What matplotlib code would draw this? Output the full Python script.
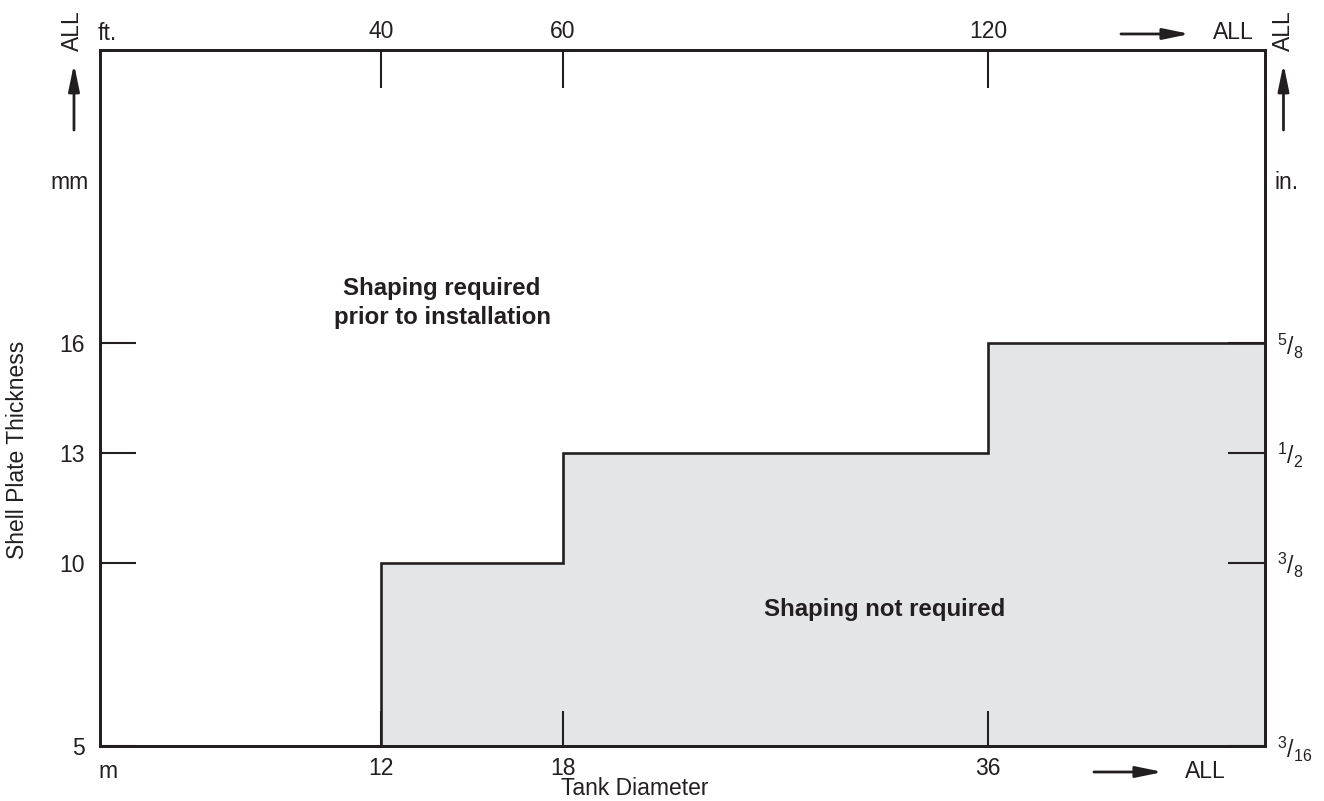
import numpy as np
import matplotlib.pyplot as plt

plt.rcParams['font.family'] = 'Liberation Sans'
plt.rcParams['mathtext.fontset'] = 'custom'
plt.rcParams['mathtext.rm'] = 'Liberation Sans'
plt.rcParams['mathtext.it'] = 'Liberation Sans'
plt.rcParams['mathtext.bf'] = 'Liberation Sans:bold'

# ============================================================
# Data
# ============================================================

diameter_m = [12, 18, 36]            # tank diameter breakpoints (m)
diameter_ft = ['40', '60', '120']    # same breakpoints in ft
min_thickness_mm = [10, 13, 16]      # shaping needed at / above this
mm_ticks = [5, 10, 13, 16]
mm_labels = ['5', '10', '13', '16']
in_labels = [r'$^{3}/_{16}$', r'$^{3}/_{8}$', r'$^{1}/_{2}$', r'$^{5}/_{8}$']

x_max = 48   # "ALL" end of the diameter axis
y_min, y_max = 5, 24

ink = '#231f20'
fill = '#e4e5e7'
fs = 16.5

# schematic (piecewise) diameter scale
knots = [0, 12, 18, 36, x_max]
frac = [0, 0.2412, 0.3974, 0.7622, 1.0]

def fwd(x):
    return np.interp(x, knots, frac)

def inv(x):
    return np.interp(x, frac, knots)

# ============================================================
# Figure
# ============================================================

fig = plt.figure(figsize=(13.24, 8.01), dpi=100)
ax = fig.add_axes([0.0755, 0.0687, 0.8799, 0.8689])
ax.set_xscale('function', functions=(fwd, inv))
ax.set_xlim(0, x_max)
ax.set_ylim(y_min, y_max)

# region where shaping is not required
xs = diameter_m + [x_max]
ys = min_thickness_mm + [min_thickness_mm[-1]]
ax.fill_between(xs, y_min, ys, step='post', color=fill, lw=0, zorder=1)

# step boundary
line_x = [diameter_m[0]]
line_y = [y_min]
for i in range(len(diameter_m)):
    x_next = diameter_m[i + 1] if i + 1 < len(diameter_m) else x_max
    line_x += [diameter_m[i], x_next]
    line_y += [min_thickness_mm[i], min_thickness_mm[i]]
ax.plot(line_x, line_y, color=ink, lw=1.9, solid_joinstyle='miter', zorder=3, clip_on=False)

for s in ax.spines.values():
    s.set_linewidth(1.9)
    s.set_color(ink)

# bottom (m) and left (mm)
ax.set_xticks(diameter_m, [str(d) for d in diameter_m])
ax.set_yticks(mm_ticks, mm_labels)
ax.tick_params(axis='x', direction='in', length=25, width=1.5, color=ink,
               labelsize=fs, pad=8, labelcolor=ink)
ax.tick_params(axis='y', direction='in', length=26, width=1.5, color=ink,
               labelsize=fs, pad=11, labelcolor=ink)
ax.xaxis.set_minor_locator(plt.NullLocator())
# 12 m tick sits on the step line already
ax.xaxis.get_major_ticks()[0].tick1line.set_visible(False)

# top (ft)
ax_t = ax.twiny()
ax_t.set_xscale('function', functions=(fwd, inv))
ax_t.set_xlim(0, x_max)
ax_t.set_xticks(diameter_m, diameter_ft)
ax_t.xaxis.set_minor_locator(plt.NullLocator())
ax_t.tick_params(axis='x', direction='in', length=27, width=1.5, color=ink,
                 labelsize=fs, pad=5, labelcolor=ink)

# right (in.)
ax_r = ax.twinx()
ax_r.set_ylim(y_min, y_max)
ax_r.set_yticks(mm_ticks, in_labels)
ax_r.tick_params(axis='y', direction='in', length=27, width=1.5, color=ink,
                 labelsize=fs, pad=9, labelcolor=ink)

for a in (ax_t, ax_r):
    for s in a.spines.values():
        s.set_linewidth(1.9)
        s.set_color(ink)

# axis titles
ax.text(0.459, -0.061, 'Tank Diameter', transform=ax.transAxes, ha='center', va='center',
        fontsize=fs, color=ink)
ax.text(-0.0704, 0.425, 'Shell Plate Thickness', transform=ax.transAxes, ha='center',
        va='center', rotation=90, fontsize=fs, color=ink)

# unit labels
ax.text(-0.010, 0.809, 'mm', transform=ax.transAxes, ha='right', va='center', fontsize=fs, color=ink)
ax.text(1.008, 0.809, 'in.', transform=ax.transAxes, ha='left', va='center', fontsize=fs, color=ink)
ax.text(-0.002, 1.023, 'ft.', transform=ax.transAxes, ha='left', va='center', fontsize=fs, color=ink)
ax.text(-0.001, -0.036, 'm', transform=ax.transAxes, ha='left', va='center', fontsize=fs, color=ink)

# region labels
ax.text(0.2936, 0.6365, 'Shaping required\nprior to installation', transform=ax.transAxes,
        ha='center', va='center', fontsize=17.3, fontweight='bold', color=ink, linespacing=1.35)
ax.text(0.6738, 0.1954, 'Shaping not required', transform=ax.transAxes,
        ha='center', va='center', fontsize=17.3, fontweight='bold', color=ink)

# "ALL" arrows
arrow = dict(arrowstyle='-|>,head_length=1.6,head_width=0.33', lw=2, color=ink,
             mutation_scale=10, shrinkA=0, shrinkB=0)

ax.annotate('', xy=(-0.0223, 0.980), xytext=(-0.0223, 0.885), xycoords='axes fraction',
            textcoords='axes fraction', arrowprops=arrow)
ax.text(-0.0232, 1.028, 'ALL', transform=ax.transAxes, ha='center', va='center',
        rotation=90, fontsize=fs, color=ink)

ax.annotate('', xy=(1.0159, 0.980), xytext=(1.0159, 0.885), xycoords='axes fraction',
            textcoords='axes fraction', arrowprops=arrow)
ax.text(1.0159, 1.028, 'ALL', transform=ax.transAxes, ha='center', va='center',
        rotation=90, fontsize=fs, color=ink)

ax.annotate('', xy=(0.9356, 1.023), xytext=(0.8764, 1.023), xycoords='axes fraction',
            textcoords='axes fraction', arrowprops=arrow)
ax.text(0.9550, 1.025, 'ALL', transform=ax.transAxes, ha='left', va='center',
        fontsize=fs, color=ink)

ax.annotate('', xy=(0.9124, -0.0374), xytext=(0.8532, -0.0374), xycoords='axes fraction',
            textcoords='axes fraction', arrowprops=arrow)
ax.text(0.9313, -0.036, 'ALL', transform=ax.transAxes, ha='left', va='center',
        fontsize=fs, color=ink)

fig.savefig('out.png', dpi=100)
